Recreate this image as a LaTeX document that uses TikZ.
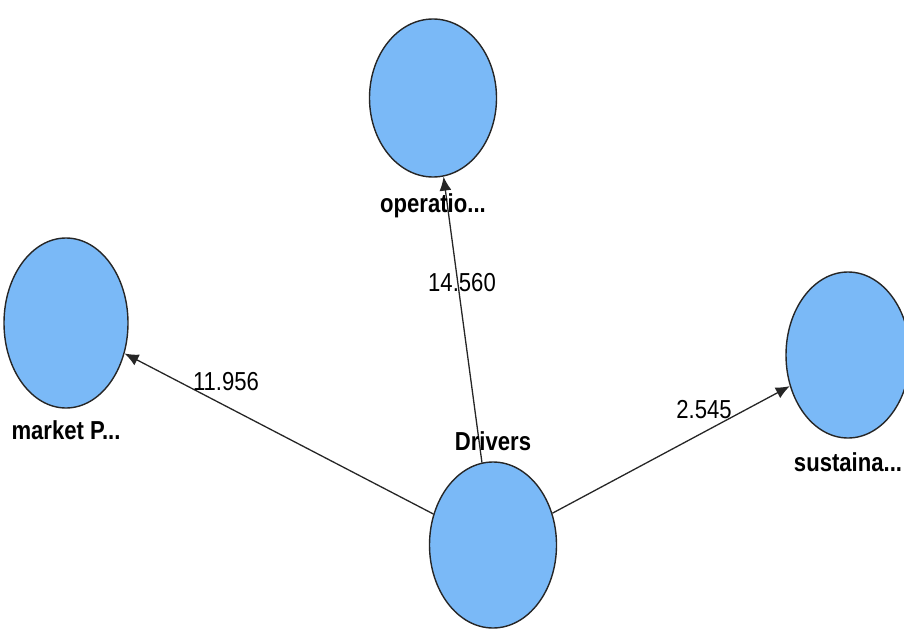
\documentclass[tikz,border=0pt]{standalone}
\usepackage{fontspec}
\setmainfont{Liberation Sans}[FakeStretch=0.85]
\usetikzlibrary{arrows.meta,positioning,shapes.geometric}
\definecolor{construct}{RGB}{122,185,247}

\tikzstyle {latent} = [ellipse, draw=black!85, line width=0.7pt, fill=construct, inner sep=0pt]
\tikzstyle {caption} = [font=\fontsize{13}{15}\selectfont\bfseries, inner sep=0pt]
\tikzstyle {weight} = [font=\fontsize{13}{15}\selectfont, inner sep=0pt]
\tikzstyle {link} = [draw=black!85, line width=0.65pt, -{Latex[length=7pt,width=6pt]}]

\begin{document}
\begin{tikzpicture}[x=0.5pt, y=-0.5pt]
            \useasboundingbox (0,0) rectangle (904,631);
            \node [latent, minimum width=63.5pt, minimum height=79pt] (oper) at (433,98) {};
            \node [latent, minimum width=62pt, minimum height=85pt] (market) at (66,323) {};
            \node [latent, minimum width=62pt, minimum height=83pt] (sust) at (848,355) {};
            \node [latent, minimum width=63.5pt, minimum height=83pt] (drv) at (493,545) {};
            \draw [link] (drv) -- (oper);
            \draw [link] (drv) -- (market);
            \draw [link] (drv) -- (sust);
            \node [caption, below=8pt of oper] (operlbl) {operatio...};
            \node [caption, below=6pt of market] (marketlbl) {market P...};
            \node [caption, below=7pt of sust] (sustlbl) {sustaina...};
            \node [caption, above=5pt of drv] (drvlbl) {Drivers};
            \node [weight] (w1) at (462,283) {14.560};
            \node [weight] (w2) at (226,382) {11.956};
            \node [weight] (w3) at (704,410) {2.545};
        \end{tikzpicture}
\end{document}
